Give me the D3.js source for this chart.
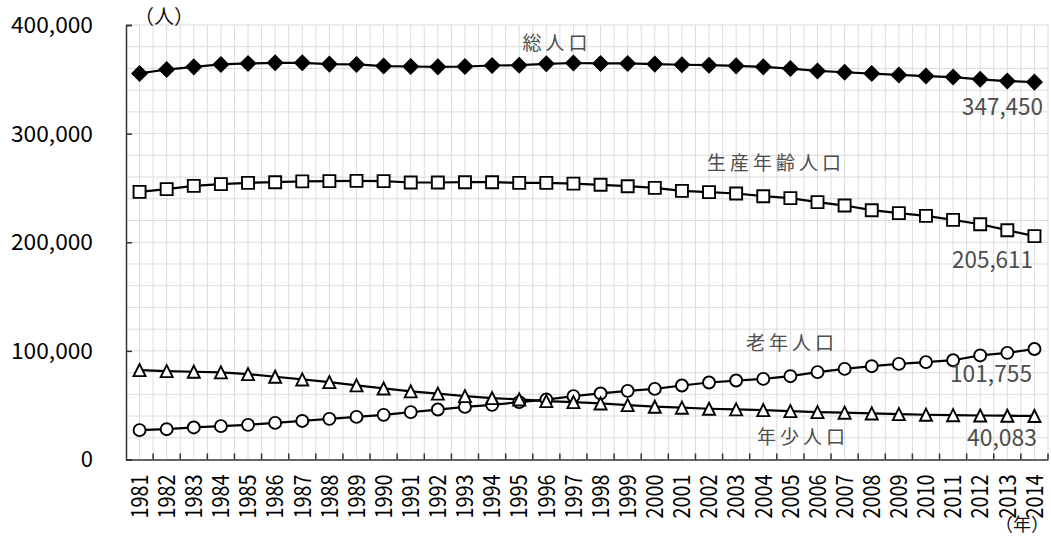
<!DOCTYPE html>
<html><head><meta charset="utf-8">
<script src="https://cdn.jsdelivr.net/npm/d3@7/dist/d3.min.js"></script>
<style>body{margin:0;background:#fff}svg{display:block}</style>
</head><body>
<svg id="c" width="1051" height="538"></svg>
<script>
const years = d3.range(1981, 2015).map(String);
const total = [355400,359000,361500,363700,364600,365200,365200,364000,363700,362200,361800,361500,361800,362700,363000,364300,365000,364600,364600,364000,363400,363000,362400,361500,359900,357700,356500,355300,354000,353000,352100,350000,348400,347450];
const working = [246400,248900,251900,253500,254700,255300,256000,256300,256500,256300,255000,255000,255300,255300,254700,254700,254000,252900,251600,250100,247300,246100,244900,242400,240600,236900,233800,229500,226800,224300,220600,216600,211100,205611];
const elderly = [27000,27900,29500,30700,31900,33700,35500,37400,39200,41100,43600,46000,48400,50300,52800,55200,58300,60800,63200,65000,68100,70900,72700,74200,76700,80400,83400,85900,88000,89600,91400,95800,98200,101755];
const young = [82300,81400,80800,80200,78600,76200,73700,71200,68200,65400,62700,60600,58300,56500,55300,53700,52800,51600,50100,48600,47700,46700,46100,45500,44500,43600,43100,42400,41800,41200,40800,40500,40300,40083];
const yTicks = [0,100000,200000,300000,400000];
const seriesNames = ["総人口","生産年齢人口","老年人口","年少人口"];
const endLabels = ["347,450","205,611","101,755","40,083"];
const unitY = "（人）", unitX = "（年）";

const svg = d3.select("#c");
const L = 126, R = 1048, T = 25, B = 459.5;
const x = d3.scaleBand().domain(years).range([L, R]).padding(0);
const bw = x.bandwidth();
const cx = d => x(d) + bw / 2;
const y = d3.scaleLinear().domain([0, 400000]).range([B, T]);
const FONT = "'Noto Sans CJK JP','Noto Sans',sans-serif";

// gridlines
const g = svg.append("g");
g.selectAll("line.h").data(d3.range(20000, 400001, 20000)).join("line")
  .attr("x1", L).attr("x2", R).attr("y1", d => y(d)).attr("y2", d => y(d))
  .attr("stroke", "#dcdcdc").attr("stroke-width", 1);
const vpos = [];
years.forEach(yr => { vpos.push(x(yr) + bw / 2); vpos.push(x(yr) + bw); });
g.selectAll("line.v").data(vpos).join("line")
  .attr("x1", d => d).attr("x2", d => d).attr("y1", T).attr("y2", B)
  .attr("stroke", "#dcdcdc").attr("stroke-width", 1);

// axes
const yAxis = d3.axisLeft(y).tickValues(yTicks).tickSize(-6).tickFormat("");
svg.append("g").attr("transform", `translate(${L},0)`).call(yAxis)
  .call(a => a.selectAll("path,line").attr("stroke", "#333").attr("stroke-width", 1.5));
const xAxis = d3.axisBottom(x).tickSize(0).tickFormat("");
svg.append("g").attr("transform", `translate(0,${B})`).call(xAxis)
  .call(a => a.select("path").attr("stroke", "#333").attr("stroke-width", 1.5));
svg.append("g").selectAll("line").data(years).join("line")
  .attr("x1", d => x(d) + bw).attr("x2", d => x(d) + bw)
  .attr("y1", B).attr("y2", B - 6).attr("stroke", "#333").attr("stroke-width", 1.5);

// y tick labels
svg.append("g").selectAll("text").data(yTicks).join("text")
  .attr("x", 93).attr("y", d => y(d)).attr("dy", "0.36em")
  .attr("text-anchor", "end").attr("font-family", FONT).attr("font-size", 22)
  .attr("fill", "#000")
  .attr("textLength", d => d === 0 ? null : 82).attr("lengthAdjust", "spacingAndGlyphs")
  .text(d => d3.format(",")(d));

// x tick labels
svg.append("g").selectAll("text").data(years).join("text")
  .attr("transform", d => `translate(${cx(d)},${B + 15}) rotate(-90)`)
  .attr("dy", "0.36em").attr("text-anchor", "end")
  .attr("font-family", FONT).attr("font-size", 23).attr("fill", "#000")
  .attr("textLength", 44).attr("lengthAdjust", "spacingAndGlyphs")
  .text(d => d);

// units
svg.append("text").attr("x", 164).attr("y", 17).attr("dy", "0.36em")
  .attr("text-anchor", "middle").attr("font-family", FONT).attr("font-size", 20)
  .attr("fill", "#111").text(unitY);
svg.append("text").attr("x", 1049).attr("y", 525).attr("dy", "0.36em")
  .attr("text-anchor", "end").attr("font-family", FONT).attr("font-size", 18)
  .attr("fill", "#111").text(unitX);

// lines + markers
const triType = { draw(ctx, size) { const h = Math.sqrt(size) / 2; ctx.moveTo(0, -h); ctx.lineTo(h, h); ctx.lineTo(-h, h); ctx.closePath(); } };
const series = [
  { vals: total, sym: d3.symbolSquare, size: 104, rot: 45, fill: "#000" },
  { vals: working, sym: d3.symbolSquare, size: 144, rot: 0, fill: "#fff" },
  { vals: elderly, sym: d3.symbolCircle, size: 113, rot: 0, fill: "#fff" },
  { vals: young, sym: triType, size: 144, rot: 0, fill: "#fff" }
];
const line = d3.line().x((d, i) => cx(years[i])).y(d => y(d));
series.forEach(s => {
  svg.append("path").datum(s.vals).attr("d", line)
    .attr("fill", "none").attr("stroke", "#000").attr("stroke-width", 2.2);
});
series.forEach(s => {
  svg.append("g").selectAll("path").data(s.vals).join("path")
    .attr("d", d3.symbol().type(s.sym).size(s.size))
    .attr("transform", (d, i) => `translate(${cx(years[i])},${y(d)}) rotate(${s.rot})`)
    .attr("fill", s.fill).attr("stroke", "#000").attr("stroke-width", 1.9);
});

// series labels
const namePos = [[557, 43], [776, 163], [792, 343], [803, 437]];
seriesNames.forEach((n, i) => {
  svg.append("text").attr("x", namePos[i][0]).attr("y", namePos[i][1]).attr("dy", "0.36em")
    .attr("text-anchor", "middle").attr("font-family", FONT).attr("font-size", 19)
    .attr("letter-spacing", 4).attr("fill", "#4d4d4d").text(n);
});
const endPos = [[1043, 106.5, 81], [1033, 259.5, 81], [1032, 374, 82], [1037, 437.5, 70]];
endLabels.forEach((t, i) => {
  svg.append("text").attr("x", endPos[i][0]).attr("y", endPos[i][1]).attr("dy", "0.36em")
    .attr("text-anchor", "end").attr("font-family", FONT).attr("font-size", 23)
    .attr("textLength", endPos[i][2]).attr("lengthAdjust", "spacingAndGlyphs")
    .attr("fill", "#4d4d4d").text(t);
});
</script>
</body></html>
